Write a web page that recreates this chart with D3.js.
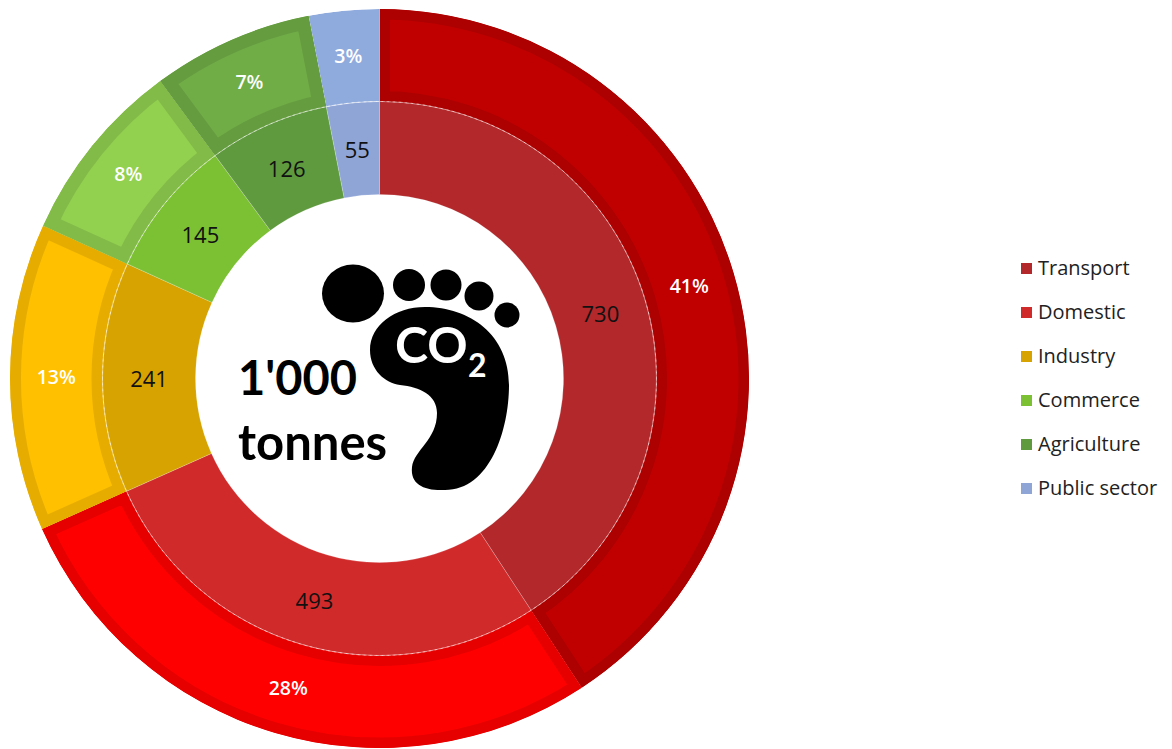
<!DOCTYPE html>
<html><head><meta charset="utf-8">
<style>html,body{margin:0;padding:0;background:#fff}svg{display:block}</style>
<script src="https://cdnjs.cloudflare.com/ajax/libs/d3/7.8.5/d3.min.js"></script>
</head><body><svg id="c" width="1172" height="749"></svg>
<script>
const categories = ["Transport","Domestic","Industry","Commerce","Agriculture","Public sector"];
const tonnes = [730,493,241,145,126,55];
const shareLabels = ["41%","28%","13%","8%","7%","3%"];
const innerColors = ["#b2282b","#d12a2b","#d6a300","#7cc034","#5f9a3f","#8fa5d6"];
const outerFill = ["#c00000","#ff0000","#ffc000","#92d050","#70ad47","#8faadc"];
const outerEdge = ["#ad0000","#e60000","#e6ad00","#83bb48","#659c40","#8faadc"];
const edgeWidth = [21,21,22,26,26,0];

const svg = d3.select("#c");
const cx = 379.5, cy = 378.5, r0 = 184, r1 = 277, r2 = 369.5;
const g = svg.append("g").attr("transform",`translate(${cx},${cy})`);
const pie = d3.pie().sort(null).value(d=>d);
const arcs = pie(tonnes);
const inner = d3.arc().innerRadius(r0).outerRadius(r1);
const outer = d3.arc().innerRadius(r1).outerRadius(r2);
const defs = svg.append("defs");

g.selectAll("path.inner").data(arcs).join("path").attr("class","inner")
  .attr("d",inner).attr("fill",(d,i)=>innerColors[i])
  .attr("stroke","#fff").attr("stroke-opacity",0.2).attr("stroke-width",1);

arcs.forEach((d,i)=>{
  defs.append("clipPath").attr("id","clip"+i).append("path").attr("d",outer(d));
});
g.selectAll("path.outer").data(arcs).join("path").attr("class","outer")
  .attr("d",outer).attr("fill",(d,i)=>outerFill[i])
  .attr("stroke",(d,i)=>outerEdge[i]).attr("stroke-width",(d,i)=>edgeWidth[i])
  .attr("clip-path",(d,i)=>`url(#clip${i})`);

g.append("path").attr("d",d3.arc().innerRadius(r1).outerRadius(r1)({startAngle:0,endAngle:2*Math.PI}))
  .attr("fill","none").attr("stroke","#fff").attr("stroke-opacity",0.45).attr("stroke-width",1).attr("stroke-dasharray","4 2");

g.selectAll("text.v").data(arcs).join("text").attr("class","v")
  .attr("transform",d=>`translate(${inner.centroid(d)})`).attr("text-anchor","middle").attr("dy","0.42em")
  .attr("font-family","Open Sans").attr("font-size",22).attr("fill","#111").text(d=>d.data);
g.selectAll("text.p").data(arcs).join("text").attr("class","p")
  .attr("transform",d=>`translate(${outer.centroid(d)})`).attr("text-anchor","middle").attr("dy","0.33em")
  .attr("font-family","Open Sans").attr("font-size",19.5).attr("font-weight",600).attr("fill","#fff").text((d,i)=>shareLabels[i]);

// footprint pictogram
const foot = svg.append("g").attr("fill","#000");
foot.append("ellipse").attr("cx",353).attr("cy",293.5).attr("rx",31).attr("ry",29);
[[409,285,16],[446,285,15.5],[479,296,14.5],[507,315,12.5]].forEach(c=>
  foot.append("circle").attr("cx",c[0]).attr("cy",c[1]).attr("r",c[2]));
foot.append("path").attr("d","M370 350 C370 325,395 307,425 307 C470 307,509 335,509 385 C509 430,490 490,445 490 C425 491,410 485,412 467 C414 450,437 440,437 413 C437 395,420 387,400 385 C385 383,370 370,370 350 Z");

svg.append("text").attr("x",395).attr("y",363).attr("font-family","Lato").attr("font-weight",700).attr("font-size",50).attr("fill","#fff").text("CO");
svg.append("text").attr("x",468).attr("y",377).attr("font-family","Lato").attr("font-weight",700).attr("font-size",32).attr("fill","#fff").text("2");
svg.append("text").attr("x",238).attr("y",395).attr("font-family","Lato").attr("font-weight",700).attr("font-size",47).attr("fill","#000").text("1'000");
svg.append("text").attr("x",238).attr("y",460).attr("font-family","Lato").attr("font-weight",700).attr("font-size",49).attr("fill","#000").text("tonnes");

const ly = d3.scalePoint().domain(categories).range([268,488]);
const lg = svg.selectAll("g.l").data(categories).join("g").attr("class","l").attr("transform",d=>`translate(0,${ly(d)})`);
lg.append("rect").attr("x",1021).attr("y",-5).attr("width",11).attr("height",11).attr("fill",(d,i)=>innerColors[i]);
lg.append("text").attr("x",1038).attr("dy","0.36em").attr("font-family","Open Sans").attr("font-size",20).attr("fill","#222").text(d=>d);
</script></body></html>
